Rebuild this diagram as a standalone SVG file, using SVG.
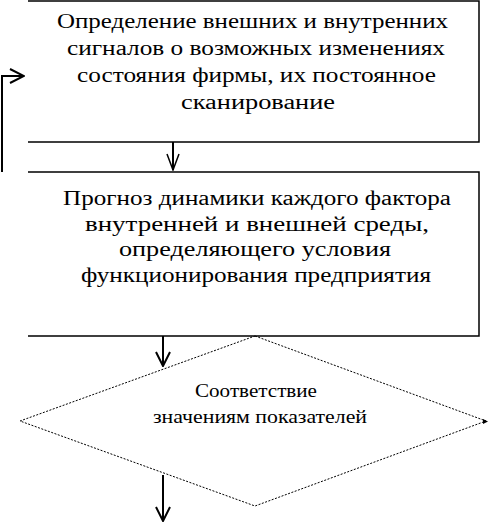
<svg xmlns="http://www.w3.org/2000/svg" width="489" height="523" viewBox="0 0 489 523">
<style>
.box{fill:none;stroke:#000;stroke-width:1.5}
.dia{fill:none;stroke:#000;stroke-width:1;stroke-dasharray:2 1.5}
.t{font-family:'Liberation Serif', serif;font-size:20px;fill:#000;text-anchor:middle}
.ts{font-family:'Liberation Serif', serif;font-size:18px;fill:#000;text-anchor:middle}
.c{fill:none;stroke:#000;stroke-width:2}
</style>
<defs>
<marker id="ah" viewBox="0 0 16 16" refX="15" refY="8" markerWidth="16" markerHeight="16" markerUnits="userSpaceOnUse" orient="auto">
<path d="M1,1 L15,8 L1,15" fill="none" stroke="#000" stroke-width="2"/>
</marker>
<marker id="ahs" viewBox="0 0 18 14" refX="17" refY="7" markerWidth="18" markerHeight="14" markerUnits="userSpaceOnUse" orient="auto">
<path d="M1,1 L17,7 L1,13" fill="none" stroke="#000" stroke-width="1.5"/>
</marker>
</defs>
<g id="node1">
<path class="box" d="M28,1 H479 V142 H28"/>
<text class="t" x="252.5" y="28" textLength="391" lengthAdjust="spacingAndGlyphs">Определение внешних и внутренних</text>
<text class="t" x="256" y="55" textLength="378" lengthAdjust="spacingAndGlyphs">сигналов о возможных изменениях</text>
<text class="t" x="256.5" y="82" textLength="359" lengthAdjust="spacingAndGlyphs">состояния фирмы, их постоянное</text>
<text class="t" x="258" y="109" textLength="154" lengthAdjust="spacingAndGlyphs">сканирование</text>
</g>
<g id="node2">
<path class="box" d="M28,172 H479 V336 H28"/>
<text class="t" x="257" y="205" textLength="388" lengthAdjust="spacingAndGlyphs">Прогноз динамики каждого фактора</text>
<text class="t" x="257" y="231" textLength="344" lengthAdjust="spacingAndGlyphs">внутренней и внешней среды,</text>
<text class="t" x="255" y="256" textLength="272" lengthAdjust="spacingAndGlyphs">определяющего условия</text>
<text class="t" x="256" y="282" textLength="350" lengthAdjust="spacingAndGlyphs">функционирования предприятия</text>
</g>
<g id="node3">
<polygon class="dia" points="255,336 486,421 255,506 20,421"/>
<text class="ts" x="256" y="397" textLength="122" lengthAdjust="spacingAndGlyphs">Соответствие</text>
<text class="ts" x="260" y="423" textLength="214" lengthAdjust="spacingAndGlyphs">значениям показателей</text>
</g>
<g id="connectors">
<path class="c" d="M2,172 V76 H24" marker-end="url(#ah)"/>
<path class="c" d="M173,142 V170" stroke-width="1.5" marker-end="url(#ahs)"/>
<path class="c" d="M163,336 V366" marker-end="url(#ah)"/>
<path class="c" d="M163,475 V521" marker-end="url(#ah)"/>
<path d="M483,419 L488,421.5 L483,424 Z" fill="#000"/>
</g>
</svg>
